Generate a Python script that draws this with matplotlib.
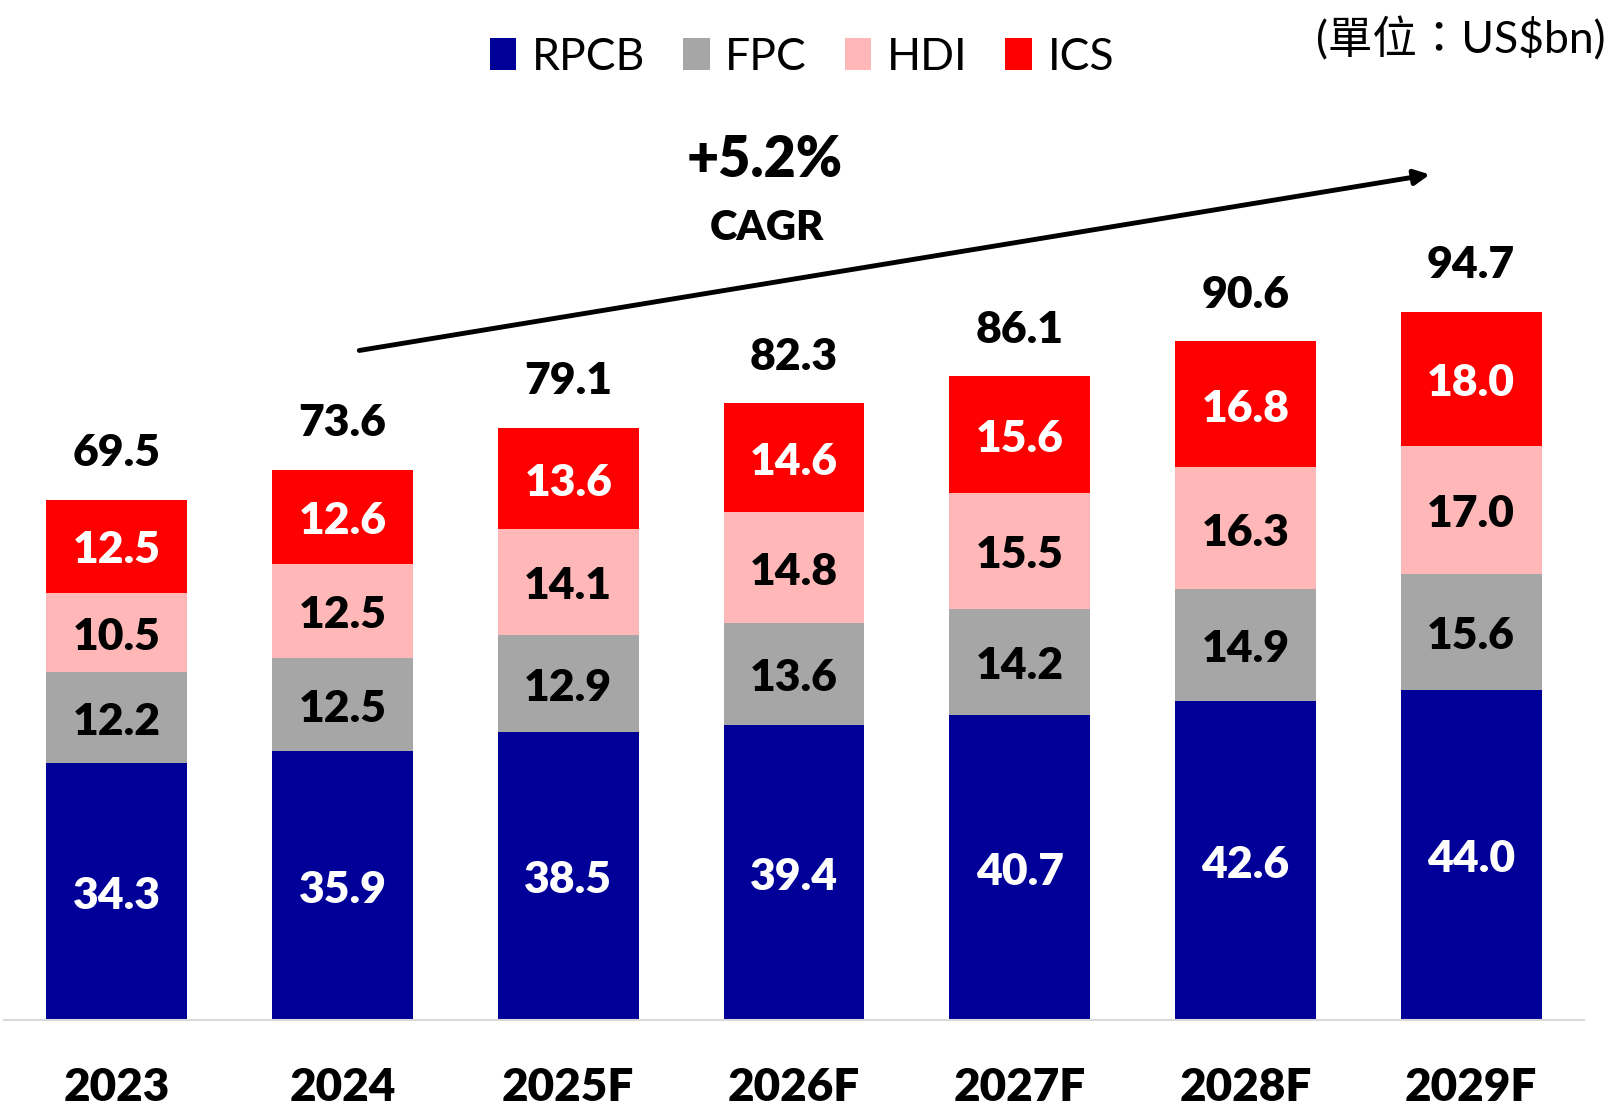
import matplotlib
matplotlib.use("Agg")
import matplotlib.pyplot as plt
import numpy as np
from matplotlib.patches import Patch

plt.rcParams['font.family'] = ['Lato', 'Noto Sans CJK TC', 'DejaVu Sans']

years = ["2023", "2024", "2025F", "2026F", "2027F", "2028F", "2029F"]
rpcb = [34.3, 35.9, 38.5, 39.4, 40.7, 42.6, 44.0]
fpc = [12.2, 12.5, 12.9, 13.6, 14.2, 14.9, 15.6]
hdi = [10.5, 12.5, 14.1, 14.8, 15.5, 16.3, 17.0]
ics = [12.5, 12.6, 13.6, 14.6, 15.6, 16.8, 18.0]
totals = [69.5, 73.6, 79.1, 82.3, 86.1, 90.6, 94.7]

series = [("RPCB", rpcb, "#000099", "white"),
          ("FPC", fpc, "#A6A6A6", "black"),
          ("HDI", hdi, "#FFB7B7", "black"),
          ("ICS", ics, "#FF0000", "white")]

W = 'heavy'

fig = plt.figure(figsize=(16.13, 11.08), dpi=100)
ax = fig.add_axes([0.0025, 88/1108, 0.982 - 0.0025, 1 - 88/1108])

x = np.arange(len(years))
bottom = np.zeros(len(years))
handles = []
for name, vals, col, tcol in series:
    vals = np.array(vals)
    ax.bar(x, vals, width=0.624, bottom=bottom, color=col, edgecolor='none')
    for xi, b, v in zip(x, bottom, vals):
        ax.annotate(f"{v:.1f}", (xi, b + v / 2), xytext=(0, -3), textcoords='offset points',
                    ha='center', va='center', color=tcol, fontsize=32, fontweight=W)
    bottom += vals
    handles.append(Patch(facecolor=col, edgecolor='none', label=name))

for xi, (b, t) in enumerate(zip(bottom, totals)):
    ax.annotate(f"{t:.1f}", (xi, b), xytext=(0, 19), textcoords='offset points',
                ha='center', va='bottom', fontsize=32, fontweight=W, color='black')

ax.set_xlim(-0.5, 6.5)
ax.set_ylim(0, 136.2)
ax.set_xticks(x)
ax.set_xticklabels(years, fontsize=33, fontweight=W)
ax.tick_params(axis='x', length=0, pad=34)
ax.set_yticks([])
for s in ['top', 'right', 'left']:
    ax.spines[s].set_visible(False)
ax.spines['bottom'].set_color('#D9D9D9')
ax.spines['bottom'].set_linewidth(1.5)

# CAGR arrow and text
ax.annotate("", xy=(5.817, 112.9), xytext=(1.074, 89.4),
            arrowprops=dict(arrowstyle='-|>,head_length=0.9,head_width=0.45',
                            lw=3.5, color='black', shrinkA=0, shrinkB=0))
ax.text(2.87, 114.9, "+5.2%", ha='center', va='center', fontsize=40, fontweight=W)
ax.text(2.88, 105.8, "CAGR", ha='center', va='center', fontsize=30, fontweight=W)

leg = fig.legend(handles=handles, loc='center', bbox_to_anchor=(802/1613, 1 - 57/1108),
                 ncol=4, frameon=False, fontsize=32, handlelength=0.6, handleheight=0.75,
                 handletextpad=0.35, columnspacing=0.85, borderaxespad=0)

fig.text(1605/1613, 1 - 39/1108, "(單位：US$bn)", ha='right', va='center', fontsize=32)

fig.savefig("out.png", dpi=100)
